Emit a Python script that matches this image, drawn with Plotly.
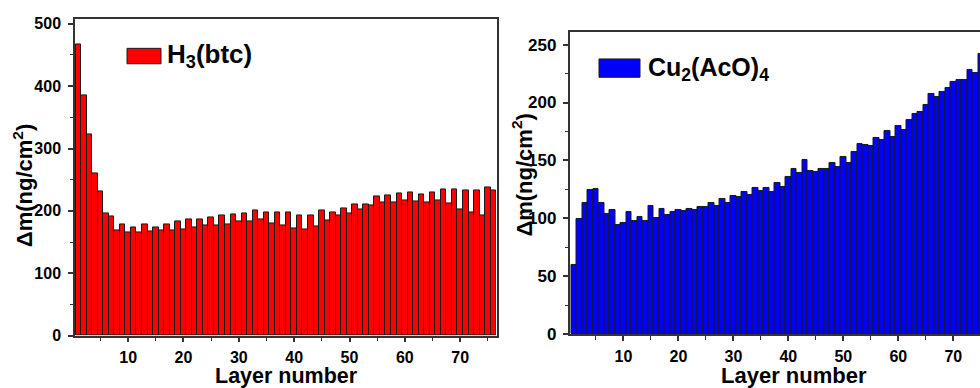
import plotly.graph_objects as go

layers_left = list(range(1, 77))
h3btc = [467, 385, 323, 260, 231, 196, 191, 168, 178, 165,
         174, 166, 178, 167, 174, 168, 178, 168, 183, 171,
         186, 173, 187, 176, 190, 176, 192, 179, 194, 183,
         196, 183, 201, 186, 198, 180, 198, 176, 197, 172,
         193, 170, 193, 175, 201, 184, 198, 193, 204, 196,
         211, 202, 211, 208, 223, 213, 224, 214, 228, 217,
         229, 215, 226, 214, 230, 217, 235, 212, 235, 203,
         233, 197, 233, 193, 237, 233]

layers_right = list(range(1, 76))
cu2aco4 = [60, 99, 113.6, 124.4, 125.3, 113, 104, 107.5, 94, 96,
           105.5, 98, 101, 98, 110.5, 100.5, 108, 103, 105.5, 107,
           106.5, 108, 107, 109.5, 109.5, 112.8, 110.5, 116.4, 113.3, 119.2,
           118, 122.5, 120.3, 125.8, 123.6, 126.6, 122.5, 130.8, 127.2, 136.1,
           143, 139.2, 150.3, 140.8, 140.3, 143, 142.8, 148, 144.2, 153,
           148, 157.5, 164.4, 163, 162.5, 169.4, 168, 175.3, 170.3, 179.7,
           176.4, 184.7, 190, 191.6, 197.5, 207.2, 205, 208.9, 212.8, 218,
           219.4, 219.7, 227.8, 226, 242]

x_title = "Layer number"
y_title = "Δm(ng/cm<sup>2</sup>)"
legend_left = "H<sub>3</sub>(btc)"
legend_right = "Cu<sub>2</sub>(AcO)<sub>4</sub>"

W, H = 980, 388
def px_x(p): return p / W
def px_y(p): return 1 - p / H

FONT = "Liberation Sans, Arial, sans-serif"
AXC = "#333333"

fig = go.Figure()
fig.add_trace(go.Bar(x=layers_left, y=h3btc, marker=dict(color="#ff0000", line=dict(color="#1a1a1a", width=1)),
                     xaxis="x", yaxis="y", showlegend=False))
fig.add_trace(go.Bar(x=layers_right, y=cu2aco4, marker=dict(color="#0000ff", line=dict(color="#1a1a1a", width=1)),
                     xaxis="x2", yaxis="y2", showlegend=False))

tickfont = dict(family=FONT, size=16, color="black", weight="bold")
tickfont2 = dict(family=FONT, size=16, color="black", weight="bold")

common_x = dict(showgrid=False, zeroline=False, showline=True, linecolor=AXC, linewidth=1.5,
                ticks="outside", ticklen=5, tickwidth=1.5, tickcolor=AXC,
                tick0=0, dtick=10,
                minor=dict(ticks="outside", ticklen=4, tickwidth=1.2, tickcolor=AXC, dtick=5, tick0=0, showgrid=False))
common_y = dict(showgrid=False, zeroline=False, showline=True, linecolor=AXC, linewidth=1.5,
                ticks="outside", ticklen=5, tickwidth=1.5, tickcolor=AXC)

fig.update_layout(
    width=W, height=H, margin=dict(l=0, r=0, t=0, b=0),
    paper_bgcolor="white", plot_bgcolor="white",
    bargap=0,
    xaxis=dict(**common_x, domain=[px_x(75), px_x(497)], range=[0.4, 76.65], anchor="y",
               mirror=True, tickfont=tickfont, ticklabelstandoff=1),
    yaxis=dict(**common_y, domain=[px_y(344), px_y(16)], range=[0, 507], anchor="x",
               mirror=True, dtick=100, tick0=0,
               minor=dict(ticks="outside", ticklen=3, tickwidth=1.2, tickcolor=AXC, dtick=50, tick0=0, showgrid=False),
               tickfont=tickfont, ticklabelstandoff=4),
    xaxis2=dict(**common_x, domain=[px_x(569.5), 1.0], range=[0.2, 74.85], anchor="y2",
                mirror=True, tickfont=tickfont2, ticklabelstandoff=2),
    yaxis2=dict(**common_y, domain=[px_y(342.3), px_y(29)], range=[0, 261], anchor="x2",
                mirror=False, dtick=50, tick0=0,
                minor=dict(ticks="outside", ticklen=3, tickwidth=1.2, tickcolor=AXC, dtick=25, tick0=0, showgrid=False),
                tickfont=dict(family=FONT, size=17, color="black", weight="bold"), ticklabelstandoff=3),
)

titlefont = dict(family=FONT, size=22, color="black", weight="bold")
ann = [
    dict(text=x_title, x=px_x(286), y=px_y(385.5), xref="paper", yref="paper", showarrow=False,
         xanchor="center", yanchor="middle", font=dict(family=FONT, size=21.5, color="black", weight="bold")),
    dict(text=x_title, x=px_x(794), y=px_y(385), xref="paper", yref="paper", showarrow=False,
         xanchor="center", yanchor="middle", font=titlefont),
    dict(text=y_title, x=px_x(23), y=px_y(189), xref="paper", yref="paper", showarrow=False,
         textangle=-90, xanchor="center", yanchor="middle", font=titlefont),
    dict(text=y_title, x=px_x(522), y=px_y(178), xref="paper", yref="paper", showarrow=False,
         textangle=-90, xanchor="center", yanchor="middle", font=titlefont),
    dict(text=legend_left, x=px_x(165), y=px_y(53), xref="paper", yref="paper", showarrow=False,
         xanchor="left", yanchor="middle", font=dict(family=FONT, size=26, color="black", weight="bold")),
    dict(text=legend_right, x=px_x(646), y=px_y(67), xref="paper", yref="paper", showarrow=False,
         xanchor="left", yanchor="middle", font=dict(family=FONT, size=25, color="black", weight="bold")),
]
fig.update_layout(annotations=ann)

fig.update_layout(shapes=[
    dict(type="rect", xref="paper", yref="paper", x0=px_x(127), x1=px_x(161), y0=px_y(62), y1=px_y(46),
         fillcolor="#ff0000", line=dict(color="#1a1a1a", width=1)),
    dict(type="rect", xref="paper", yref="paper", x0=px_x(599), x1=px_x(640), y0=px_y(76), y1=px_y(57),
         fillcolor="#0000ff", line=dict(color="#1a1a1a", width=1)),
])

fig.write_html("out.html")
